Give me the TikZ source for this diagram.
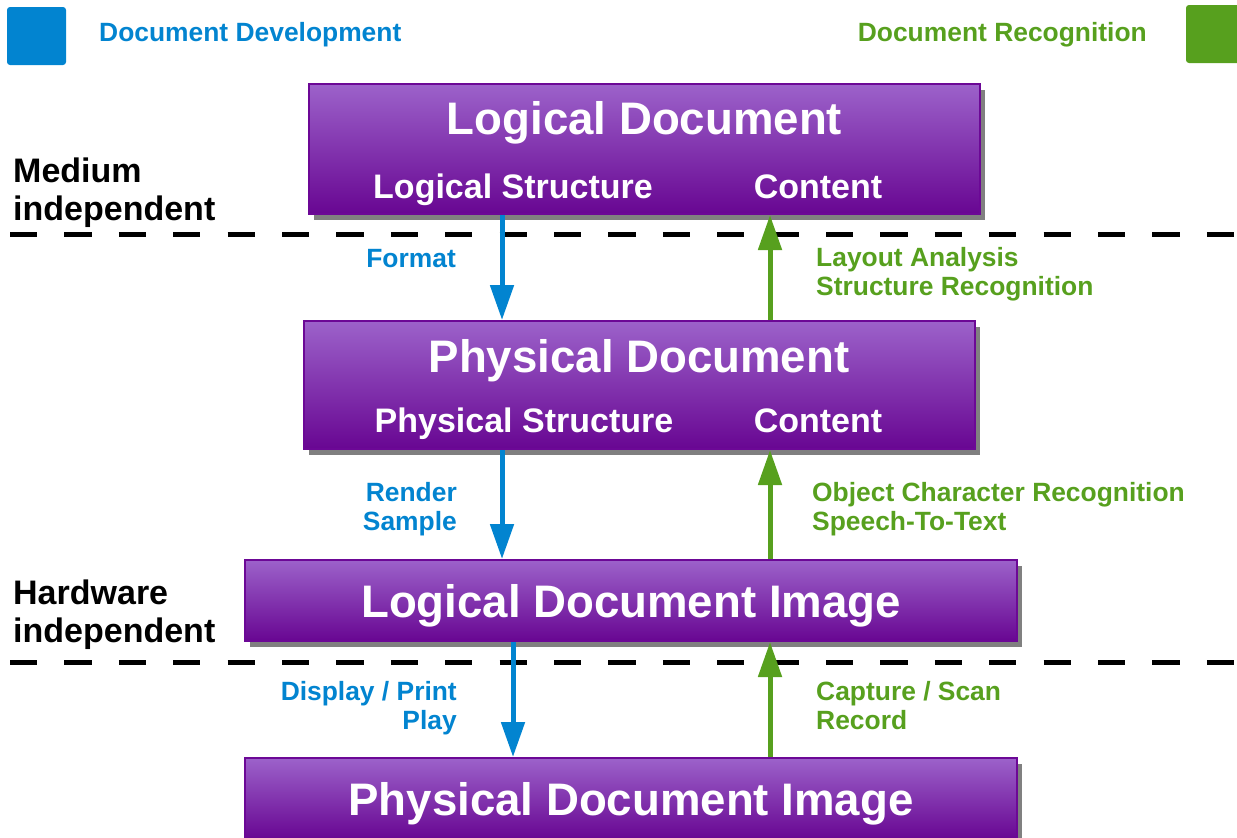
\documentclass[tikz,border=0pt]{standalone}
\usepackage{fontspec}
\setmainfont{Liberation Sans}
\usetikzlibrary{arrows.meta,shadows}

\definecolor{devblue}{RGB}{2,132,208}
\definecolor{recgreen}{RGB}{87,160,30}
\definecolor{boxtop}{RGB}{156,98,202}
\definecolor{boxbottom}{RGB}{104,6,146}
\definecolor{boxedge}{RGB}{108,8,150}

\tikzset{
  docbox/.style={draw=boxedge, line width=2pt, top color=boxtop, bottom color=boxbottom,
    inner sep=0pt, drop shadow={shadow xshift=5pt, shadow yshift=-6pt, fill=black!50, opacity=1}},
  boxtitle/.style={text=white, font=\bfseries\fontsize{45.6}{50}\selectfont, inner sep=0pt, anchor=base},
  boxsub/.style={text=white, font=\bfseries\fontsize{34}{38}\selectfont, inner sep=0pt, anchor=base},
  sidelabel/.style={text=black, font=\bfseries\fontsize{34}{38}\selectfont, inner sep=0pt, anchor=north west, align=left},
  devlabel/.style={text=devblue, font=\bfseries\fontsize{26.4}{29}\selectfont, inner sep=0pt, align=right},
  reclabel/.style={text=recgreen, font=\bfseries\fontsize{26.4}{29}\selectfont, inner sep=0pt, align=left},
  devarrow/.style={draw=devblue, line width=5pt, -{Triangle[length=35pt,width=23pt]}},
  recarrow/.style={draw=recgreen, line width=5pt, -{Triangle[length=35pt,width=23pt]}},
  divider/.style={draw=black, line width=5pt, dash pattern=on 27.2pt off 27.2pt},
  swatch/.style={rounded corners=3pt, inner sep=0pt}
}

\begin{document}
\begin{tikzpicture}[x=1pt, y=-1pt]
\useasboundingbox (0,0) rectangle (1237,838);

% legend
\node[swatch, fill=devblue, minimum width=59pt, minimum height=58pt] (devkey) at (36.5,36) {};
\node[devlabel, anchor=base west] (devtext) at (99,41) {Document Development};
\node[swatch, fill=recgreen, minimum width=59pt, minimum height=58pt] (reckey) at (1215.5,34) {};
\node[reclabel, anchor=base east] (rectext) at (1147,41) {Document Recognition};

% level separators
\coordinate (sepA1) at (10,234);
\coordinate (sepA2) at (1237,234);
\coordinate (sepB1) at (10,662);
\coordinate (sepB2) at (1237,662);
\draw[divider] (sepA1) -- (sepA2);
\draw[divider] (sepB1) -- (sepB2);

\node[sidelabel] (medium) at (13,158) {Medium\\independent};
\node[sidelabel] (hardware) at (13,580) {Hardware\\independent};

% document boxes
\node[docbox, minimum width=671pt, minimum height=130pt] (logdoc) at (644.5,149) {};
\node[boxtitle] (logdocT) at (644.5,134) {Logical Document};
\node[boxsub] (logstruct) at (513,198) {Logical Structure};
\node[boxsub] (logcontent) at (818,198) {Content};

\node[docbox, minimum width=671pt, minimum height=128pt] (physdoc) at (639.5,385) {};
\node[boxtitle] (physdocT) at (639,372) {Physical Document};
\node[boxsub] (physstruct) at (524,432) {Physical Structure};
\node[boxsub] (physcontent) at (818,432) {Content};

\node[docbox, minimum width=772pt, minimum height=81pt] (logimg) at (631,600.5) {};
\node[boxtitle] (logimgT) at (631,617) {Logical Document Image};

\node[docbox, minimum width=772pt, minimum height=81pt] (physimg) at (631,798.5) {};
\node[boxtitle] (physimgT) at (631,815) {Physical Document Image};

% arrow columns
\coordinate (devA) at (502,0);
\coordinate (devB) at (513,0);
\coordinate (recA) at (770,0);

\draw[devarrow] (logdoc.south -| devA) -- (physdoc.north -| devA);
\draw[devarrow] (physdoc.south -| devA) -- (logimg.north -| devA);
\draw[devarrow] (logimg.south -| devB) -- (physimg.north -| devB);

\draw[recarrow] (physdoc.north -| recA) -- (logdoc.south -| recA);
\draw[recarrow] (logimg.north -| recA) -- (physdoc.south -| recA);
\draw[recarrow] (physimg.north -| recA) -- (logimg.south -| recA);

% arrow labels
\node[devlabel, anchor=base east] (format) at (456,267) {Format};
\node[reclabel, anchor=north west] (layout) at (816,247) {Layout Analysis\\Structure Recognition};
\node[devlabel, anchor=north east] (render) at (457,482) {Render\\Sample};
\node[reclabel, anchor=north west] (ocr) at (812,482) {Object Character Recognition\\Speech-To-Text};
\node[devlabel, anchor=north east] (display) at (457,681) {Display / Print\\Play};
\node[reclabel, anchor=north west] (capture) at (816,681) {Capture / Scan\\Record};
\end{tikzpicture}
\end{document}
